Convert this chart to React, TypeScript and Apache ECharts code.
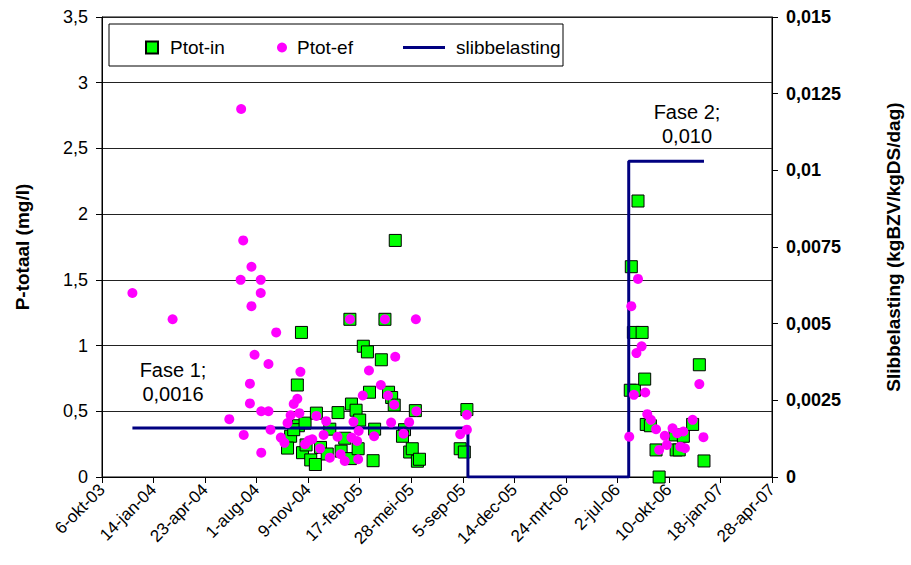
import React, { useEffect, useRef } from "react";
import * as echarts from "echarts";

// x values are days since 6-okt-03 (the x-axis origin)
const inDay = [366, 360, 379, 381, 372, 387, 389, 394, 396, 405, 414, 416, 424, 437, 442, 458, 464, 471, 482, 481, 484, 493, 497, 500, 507, 515, 519, 526, 529, 542, 549, 556, 562, 567, 569, 587, 583, 597, 602, 608, 612, 616, 695, 703, 708,
  1025, 1027, 1033, 1031, 1040, 1048, 1053, 1056, 1064, 1075, 1081, 1112, 1114, 1120, 1128, 1146, 1159, 1168];
const inValue = [0.31, 0.22, 0.70, 0.39, 0.36, 1.10, 0.185, 0.41, 0.244, 0.13, 0.095, 0.486, 0.225, 0.175, 0.364, 0.49, 0.197, 0.295, 0.14, 1.20, 0.555, 0.508, 0.215, 0.433, 0.995, 0.952, 0.645, 0.124, 0.364, 0.892, 1.20, 0.645, 0.605, 0.547, 1.80, 0.36, 0.31, 0.19, 0.215, 0.505, 0.12, 0.135, 0.215, 0.19, 0.513,
  0.66, 1.60, 0.66, 1.10, 2.10, 1.10, 0.745, 0.40, 0.39, 0.206, 0.0, 0.32, 0.206, 0.206, 0.31, 0.40, 0.854, 0.122];

const efDay = [59, 137, 247, 269, 270, 274, 275, 287, 287, 290, 290, 296, 308, 308, 309, 309, 323, 323, 327, 338, 347, 354, 360, 366, 372, 379, 383, 385, 394, 401, 408, 416, 423, 430, 435, 442, 457, 463, 471, 481, 484, 488, 495, 497, 498, 506, 518, 528, 541, 549, 555, 561, 567, 569, 585, 596, 610, 609, 695, 708, 708,
  1023, 1027, 1032, 1037, 1040, 1047, 1054, 1058, 1065, 1075, 1081, 1092, 1096, 1107, 1116, 1122, 1128, 1131, 1146, 1159, 1167];
const efValue = [1.40, 1.20, 0.44, 1.50, 2.80, 1.80, 0.32, 0.71, 0.56, 1.60, 1.30, 0.93, 1.50, 1.40, 0.50, 0.185, 0.86, 0.50, 0.36, 1.10, 0.30, 0.26, 0.41, 0.47, 0.556, 0.595, 0.486, 0.80, 0.25, 0.277, 0.287, 0.465, 0.216, 0.32, 0.425, 0.147, 0.307, 0.173, 0.122, 1.20, 0.30, 0.42, 0.274, 0.135, 0.35, 0.62, 0.81, 0.31, 0.70, 1.20, 0.62, 0.414, 0.55, 0.915, 0.33, 0.417, 0.50, 1.20, 0.325, 0.473, 0.36,
  0.307, 1.30, 0.625, 0.943, 1.507, 0.994, 0.643, 0.478, 0.435, 0.363, 0.206, 0.313, 0.244, 0.371, 0.333, 0.231, 0.346, 0.219, 0.435, 0.707, 0.303];

const slibDay = [59, 710, 710, 1022, 1022, 1168];
const slibValue = [0.0016, 0.0016, 0, 0, 0.0103, 0.0103];

const monthNames = ["jan", "feb", "mrt", "apr", "mei", "jun", "jul", "aug", "sep", "okt", "nov", "dec"];
const originUTC = Date.UTC(2003, 9, 6);

const FONT = "Liberation Sans";

function dateLabel(d: number): string {
  const dt = new Date(originUTC + Math.round(d) * 86400000);
  const yy = String(dt.getUTCFullYear() % 100).padStart(2, "0");
  return `${dt.getUTCDate()}-${monthNames[dt.getUTCMonth()]}-${yy}`;
}

function comma(v: number): string {
  return String(+v.toFixed(6)).replace(".", ",");
}

export default function App() {
  const ref = useRef<HTMLDivElement>(null);
  useEffect(() => {
    if (!ref.current) return;
    const chart = echarts.init(ref.current, null, { renderer: "svg" });
    const inData = inDay.map((d, i) => [d, inValue[i]]);
    const efData = efDay.map((d, i) => [d, efValue[i]]);
    const slibData = slibDay.map((d, i) => [d, slibValue[i]]);
    const legendText = { fontFamily: FONT, fontSize: 19, color: "#000" };
    chart.setOption({
      animation: false,
      backgroundColor: "#fff",
      textStyle: { fontFamily: FONT },
      grid: {
        left: 102, right: 136, top: 17, bottom: 88,
        show: true, borderColor: "#000", borderWidth: 1, backgroundColor: "transparent",
      },
      legend: [
        {
          data: [{ name: "Ptot-in", icon: "rect" }], left: 140, top: 33, itemWidth: 12, itemHeight: 12,
          selectedMode: false, textStyle: { ...legendText, padding: [0, 0, 0, 7] },
        },
        {
          data: [{ name: "Ptot-ef", icon: "circle" }], left: 272, top: 33, itemWidth: 10, itemHeight: 10,
          selectedMode: false, textStyle: { ...legendText, padding: [0, 0, 0, 5] },
        },
        {
          data: [{ name: "slibbelasting", icon: "rect" }], left: 398, top: 33, itemWidth: 42, itemHeight: 3,
          selectedMode: false, textStyle: { ...legendText, padding: [0, 0, 0, 6] },
        },
      ],
      xAxis: {
        type: "value", min: 0, max: 1300, interval: 100,
        axisLine: { show: true, lineStyle: { color: "#000", width: 1 } },
        axisTick: { show: true, length: 6, lineStyle: { color: "#000" } },
        splitLine: { show: false },
        axisLabel: {
          rotate: 45, fontSize: 17, color: "#000", fontFamily: FONT, margin: 10,
          formatter: (v: number) => dateLabel(v),
        },
      },
      yAxis: [
        {
          type: "value", min: 0, max: 3.5, interval: 0.5, position: "left",
          name: "P-totaal (mg/l)", nameLocation: "middle", nameGap: 70, nameRotate: 90,
          nameTextStyle: { fontSize: 19, fontWeight: "bold", color: "#000", fontFamily: FONT },
          axisLine: { show: true, lineStyle: { color: "#000", width: 1 } },
          axisTick: { show: true, length: 6, lineStyle: { color: "#000" } },
          splitLine: { show: true, lineStyle: { color: "#222", width: 1 } },
          axisLabel: { fontSize: 18, color: "#000", fontFamily: FONT, margin: 14, formatter: (v: number) => comma(v) },
        },
        {
          type: "value", min: 0, max: 0.015, interval: 0.0025, position: "right",
          name: "Slibbelasting (kgBZV/kgDS/dag)", nameLocation: "middle", nameGap: 112, nameRotate: 90,
          nameTextStyle: { fontSize: 19, fontWeight: "bold", color: "#000", fontFamily: FONT },
          axisLine: { show: true, lineStyle: { color: "#000", width: 1 } },
          axisTick: { show: true, length: 6, lineStyle: { color: "#000" } },
          splitLine: { show: false },
          axisLabel: { fontSize: 18, fontWeight: "bold", color: "#000", fontFamily: FONT, margin: 14, formatter: (v: number) => comma(v) },
        },
      ],
      series: [
        {
          name: "Ptot-in", type: "scatter", data: inData, yAxisIndex: 0, z: 2,
          symbol: "rect", symbolSize: 12,
          itemStyle: { color: "#00FF00", borderColor: "#000", borderWidth: 1, opacity: 1 },
        },
        {
          name: "slibbelasting", type: "line", data: slibData, yAxisIndex: 1, z: 3,
          symbol: "none", showSymbol: false,
          lineStyle: { color: "#000080", width: 3 },
          itemStyle: { color: "#000080" },
        },
        {
          name: "Ptot-ef", type: "scatter", data: efData, yAxisIndex: 0, z: 4,
          symbol: "circle", symbolSize: 10,
          itemStyle: { color: "#FF00FF", opacity: 1 },
        },
      ],
      graphic: [
        {
          type: "rect", z: 1, silent: true,
          shape: { x: 109, y: 24, width: 454, height: 42 },
          style: { fill: "#fff", stroke: "#000", lineWidth: 1 },
        },
        {
          type: "text", z: 10, x: 173, y: 382, silent: true,
          style: {
            text: "Fase 1;\n0,0016", fontSize: 20, fontFamily: FONT, fill: "#000",
            align: "center", verticalAlign: "middle", lineHeight: 24,
          },
        },
        {
          type: "text", z: 10, x: 687, y: 124, silent: true,
          style: {
            text: "Fase 2;\n0,010", fontSize: 20, fontFamily: FONT, fill: "#000",
            align: "center", verticalAlign: "middle", lineHeight: 24,
          },
        },
      ],
    });
    return () => chart.dispose();
  }, []);
  return <div ref={ref} style={{ width: 911, height: 565, position: "absolute", left: 0, top: 0 }} />;
}
